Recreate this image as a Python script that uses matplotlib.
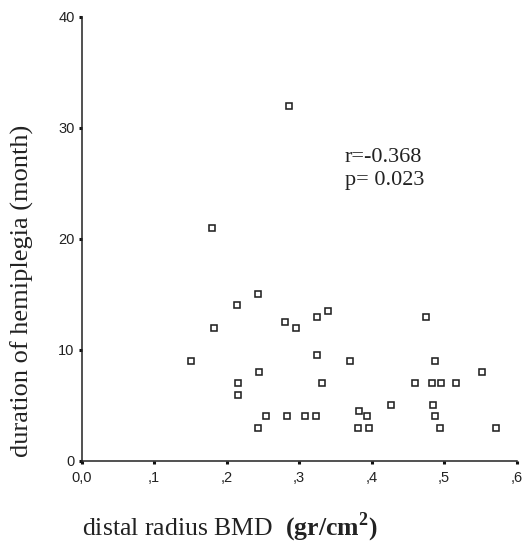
import matplotlib
matplotlib.use("Agg")
import matplotlib.pyplot as plt

# distal radius BMD (gr/cm2) vs duration of hemiplegia (month)
bmd = [0.151, 0.180, 0.183, 0.214, 0.216, 0.216, 0.243, 0.245, 0.243, 0.254,
       0.286, 0.280, 0.295, 0.283, 0.308, 0.324, 0.340, 0.324, 0.331, 0.323,
       0.370, 0.383, 0.394, 0.381, 0.396, 0.426, 0.460, 0.475, 0.487, 0.483,
       0.496, 0.485, 0.487, 0.494, 0.516, 0.552, 0.571]
duration = [9.0, 21.0, 12.0, 14.0, 7.0, 5.9, 15.0, 8.0, 3.0, 4.0,
            32.0, 12.5, 12.0, 4.0, 4.0, 13.0, 13.5, 9.5, 7.0, 4.0,
            9.0, 4.5, 4.0, 3.0, 3.0, 5.0, 7.0, 13.0, 9.0, 7.0,
            7.0, 5.0, 4.0, 3.0, 7.0, 8.0, 3.0]

x_ticks = [0.0, 0.1, 0.2, 0.3, 0.4, 0.5, 0.6]
x_tick_labels = ["0,0", ",1", ",2", ",3", ",4", ",5", ",6"]
y_ticks = [0, 10, 20, 30, 40]

plt.rcParams['mathtext.fontset'] = 'custom'
plt.rcParams['mathtext.rm'] = 'Liberation Serif'
plt.rcParams['mathtext.bf'] = 'Liberation Serif:bold'

fig = plt.figure(figsize=(5.23, 5.48), dpi=100)
ax = fig.add_axes([0.156, 0.159, 0.832, 0.8105])

ax.plot(bmd, duration, linestyle='none', marker='s', markersize=5,
        markerfacecolor='white', markeredgecolor='#222222', markeredgewidth=1.15,
        clip_on=False)

ax.set_xlim(0, 0.6)
ax.set_ylim(0, 40)
ax.set_xticks(x_ticks)
ax.set_xticklabels(x_tick_labels)
ax.set_yticks(y_ticks)

for side in ['top', 'right']:
    ax.spines[side].set_visible(False)
for side in ['left', 'bottom']:
    ax.spines[side].set_linewidth(1.1)
    ax.spines[side].set_color('#222222')

ax.tick_params(direction='out', length=2, width=2.2, color='#111111',
               labelsize=10.5, labelcolor='#222222')
ax.tick_params(axis='x', pad=5)
ax.tick_params(axis='y', pad=3)
for lab in ax.get_xticklabels() + ax.get_yticklabels():
    lab.set_fontfamily('Liberation Sans')

serif = 'Liberation Serif'
ax.text(0.363, 26.9, "r=-0.368", fontsize=16, family=serif, va='baseline', color='#222222')
ax.text(0.363, 24.8, "p= 0.023", fontsize=16, family=serif, va='baseline', color='#222222')

fig.text(22 / 523, 0.47, "duration of hemiplegia (month)", rotation=90,
         ha='center', va='center', fontsize=19, family=serif, color='#222222')
fig.text(82 / 523, 1 - 535 / 548,
         r"distal radius BMD  $\mathbf{(gr/cm}^{\mathbf{2}}\mathbf{)}$",
         ha='left', va='baseline', fontsize=18.5, family=serif, color='#222222')

fig.savefig("out.png", dpi=100)
